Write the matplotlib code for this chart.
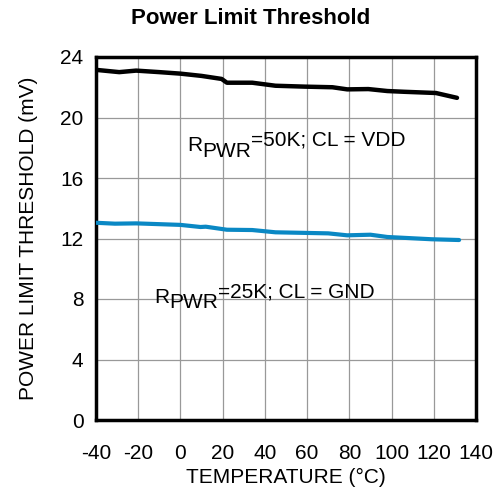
import matplotlib
matplotlib.use("Agg")
import matplotlib.pyplot as plt

plt.rcParams["font.family"] = ["Liberation Sans", "DejaVu Sans"]
plt.rcParams["axes.unicode_minus"] = False

# temperature (C) and threshold (mV)
temp_vdd = [-40, -29, -21, -10, 0, 10, 19.5, 22, 34, 45, 59, 72, 79, 89, 98, 106, 121, 131]
pwr_vdd = [23.15, 23.0, 23.1, 23.0, 22.9, 22.75, 22.55, 22.3, 22.3, 22.1, 22.04, 22.0, 21.86, 21.88, 21.75, 21.7, 21.62, 21.3]

temp_gnd = [-40, -31, -21, 0, 9.5, 12, 22, 34, 45, 70, 79, 90, 98, 119, 132]
pwr_gnd = [13.04, 12.98, 13.0, 12.9, 12.76, 12.78, 12.58, 12.56, 12.41, 12.34, 12.21, 12.25, 12.1, 11.95, 11.9]

xticks = list(range(-40, 141, 20))
yticks = list(range(0, 25, 4))

fig = plt.figure(figsize=(5.02, 4.99), dpi=100)
ax = fig.add_axes([96 / 502, 1 - 420 / 499, 380 / 502, 363 / 499])

ax.plot(temp_vdd, pwr_vdd, color="black", lw=3.2, solid_capstyle="round", zorder=3)
ax.plot(temp_gnd, pwr_gnd, color="#0a88c4", lw=3.0, solid_capstyle="round", zorder=3)

ax.set_xlim(-40, 140)
ax.set_ylim(0, 24)
ax.set_xticks(xticks)
ax.set_yticks(yticks)
ax.grid(True, color="#999999", lw=0.9)
ax.tick_params(length=0, labelsize=15)
ax.tick_params(axis="x", pad=17)
ax.tick_params(axis="y", pad=9)
for s in ax.spines.values():
    s.set_linewidth(2.5)

ax.set_xlabel("TEMPERATURE (°C)", fontsize=15, labelpad=4)
ax.set_ylabel("POWER LIMIT THRESHOLD (mV)", fontsize=15, labelpad=16)
fig.text(0.5, 1 - 18 / 499, "Power Limit Threshold", ha="center", va="center",
         fontsize=16, fontweight="bold")


def label(x, y, rest):
    r = ax.text(x, y, "R", fontsize=15, va="bottom", zorder=4)
    p = ax.annotate("PWR", xy=(1, 0), xycoords=r, xytext=(0, -4), textcoords="offset points",
                    fontsize=15, va="bottom", zorder=4)
    ax.annotate(rest, xy=(1, 0), xycoords=p, xytext=(0, 8), textcoords="offset points",
                fontsize=15, va="bottom", zorder=4)


label(3.3, 17.5, "=50K; CL = VDD")
label(-12.3, 7.5, "=25K; CL = GND")

fig.savefig("out.png", dpi=100)
